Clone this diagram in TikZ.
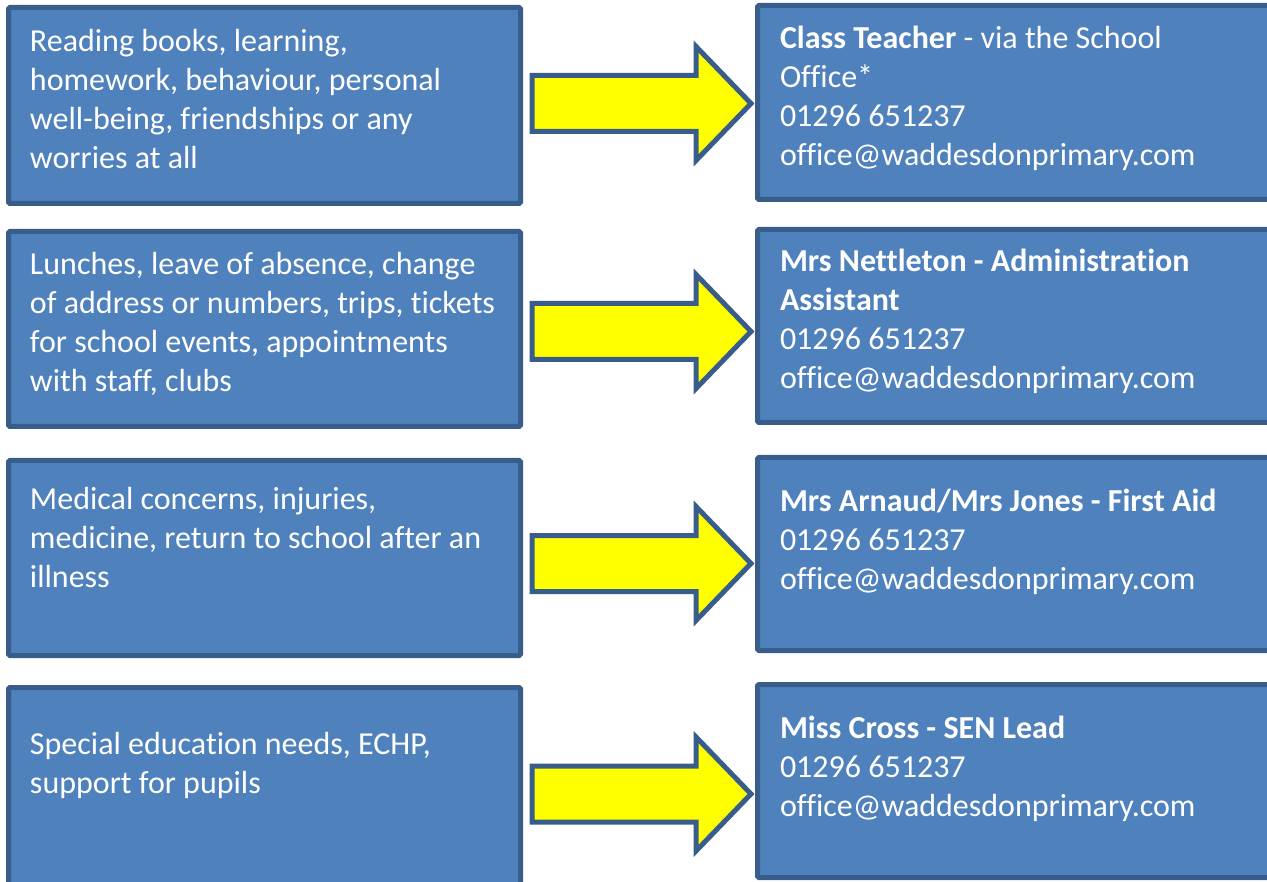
\documentclass[tikz,border=0pt]{standalone}
\usepackage{fontspec}
\setmainfont{Carlito}[Ligatures={NoCommon,NoRare,NoContextual},RawFeature={-liga;-clig;-dlig;-calt}]
\definecolor{boxfill}{HTML}{4F81BD}
\definecolor{boxline}{HTML}{385D8A}
\definecolor{arrfill}{HTML}{FFFF00}
\tikzset{
  panel/.style={draw=boxline, fill=boxfill, line width=5pt, rounded corners=1.5pt, inner sep=0pt, outer sep=0pt, anchor=north west},
  lbl/.style={text=white, anchor=north west, inner sep=0pt, outer sep=0pt, align=left, font=\fontsize{32}{39}\selectfont},
  blockarrow/.style={draw=boxline, fill=arrfill, line width=5pt, miter limit=10}
}
\newcommand{\fl}{\rule{0pt}{26pt}}
\begin{document}
\begin{tikzpicture}[x=1pt,y=-1pt]
\useasboundingbox (0,0) rectangle (1267,882);
% left boxes
\node[panel, minimum width=512pt, minimum height=196pt] (L1) at (8.5,7.5) {};
\node[panel, minimum width=512pt, minimum height=195pt] (L2) at (8.5,231.5) {};
\node[panel, minimum width=512pt, minimum height=195pt] (L3) at (8.5,460.5) {};
\node[panel, minimum width=512pt, minimum height=215pt] (L4) at (8.5,687.5) {};
% right boxes
\node[panel, minimum width=540pt, minimum height=194pt] (R1) at (757.5,5.5) {};
\node[panel, minimum width=540pt, minimum height=193pt] (R2) at (757.5,229.5) {};
\node[panel, minimum width=540pt, minimum height=193pt] (R3) at (757.5,457.5) {};
\node[panel, minimum width=540pt, minimum height=193pt] (R4) at (757.5,684.5) {};
% arrows
\foreach \c in {103.5,331.5,563.5,794} {
  \draw[blockarrow] (532,\c-28) -- (696,\c-28) -- (696,\c-57) -- (751,\c) -- (696,\c+57) -- (696,\c+28) -- (532,\c+28) -- cycle;
}
% left texts
\node[lbl] (t1) at (30,26) {\fl Reading books, learning,\\homework, behaviour, personal\\well-being, friendships or any\\worries at all};
\node[lbl] (t2) at (30,249) {\fl Lunches, leave of absence, change\\of address or numbers, trips, tickets\\for school events, appointments\\with staff, clubs};
\node[lbl] (t3) at (30,483) {\fl Medical concerns, injuries,\\medicine, return to school after an\\illness};
\node[lbl] (t4) at (30,728) {\fl Special education needs, ECHP,\\support for pupils};
% right texts
\node[lbl] (s1) at (780,23) {\fl\textbf{Class Teacher} - via the School\\Office*\\01296 651237\\office@waddesdonprimary.com};
\node[lbl] (s2) at (780,246) {\fl\textbf{Mrs Nettleton - Administration}\\\textbf{Assistant}\\01296 651237\\office@waddesdonprimary.com};
\node[lbl] (s3) at (780,485) {\fl\textbf{Mrs Arnaud/Mrs Jones - First Aid}\\01296 651237\\office@waddesdonprimary.com};
\node[lbl] (s4) at (780,712) {\fl\textbf{Miss Cross - SEN Lead}\\01296 651237\\office@waddesdonprimary.com};
\end{tikzpicture}
\end{document}
